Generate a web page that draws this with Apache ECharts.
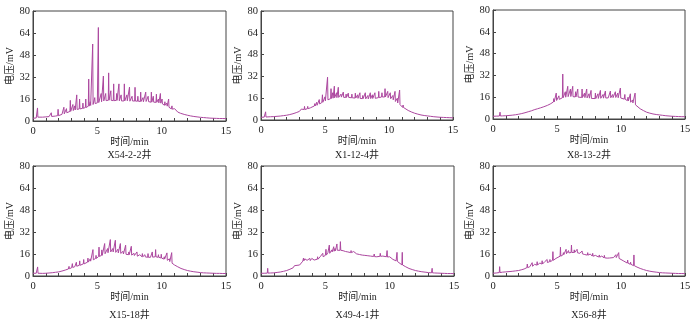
<!DOCTYPE html>
<html><head><meta charset="utf-8">
<script src="https://cdn.jsdelivr.net/npm/echarts@6/dist/echarts.min.js"></script>
<style>html,body{margin:0;padding:0;background:#fff}#c{width:700px;height:326px}</style>
</head><body><div id="c"></div>
<script>
// time grid for baselines (min)
const TIME = [0,0.25,0.5,0.75,1,1.25,1.5,1.75,2,2.25,2.5,2.75,3,3.25,3.5,3.75,4,4.25,4.5,4.75,5,5.25,5.5,5.75,6,6.25,6.5,6.75,7,7.25,7.5,7.75,8,8.25,8.5,8.75,9,9.25,9.5,9.75,10,10.25,10.5,10.75,11,11.25,11.5,11.75,12,12.25,12.5,12.75,13,13.25,13.5,13.75,14,14.25,14.5,14.75,15];
const TITLES = ['X54-2-2井','X1-12-4井','X8-13-2井','X15-18井','X49-4-1井','X56-8井'];
const Y_TICKS = [0,16,32,48,64,80];
const X_TICKS = [0,5,10,15];

// baselines (mV at TIME) and peaks [time, apex, foot]
const BASE1 = [2.0,2.2,3.0,2.8,3.0,3.2,3.4,3.6,4.0,4.8,5.5,6.5,7.2,8.0,8.6,9.0,9.5,10.5,11.5,12.5,13.2,14.0,14.6,15.0,15.2,14.8,15.0,14.6,14.5,14.8,14.4,14.6,14.3,14.5,14.0,14.2,14.0,13.6,13.8,13.2,12.5,11.5,10.2,8.8,7.6,6.5,5.6,4.8,4.2,3.7,3.3,3.0,2.7,2.5,2.3,2.1,2.0,1.9,1.8,1.8,1.7];
const PEAK1 = [[0.35,9.5,2.8],[1.42,6,3.3],[1.95,8.5,3.9],[2.4,10,5.2],[2.6,9,6],[2.9,15,7.0],[3.1,12,7.6],[3.25,11,8.0],[3.4,19,8.4],[3.62,16,8.8],[3.88,13,9.2],[4.1,16,9.8],[4.33,30.5,10.8],[4.45,14,11.3],[4.64,56,12.0],[4.8,17,12.7],[5.08,68,13.4],[5.3,20,14.0],[5.47,32.7,14.5],[5.65,20,14.8],[5.88,35,15.1],[6.05,22,15.0],[6.27,27,14.8],[6.5,20,15.0],[6.68,27,14.7],[6.85,19,14.6],[7.1,27,14.6],[7.3,19,14.7],[7.5,24.7,14.4],[7.7,18,14.6],[7.93,24.5,14.5],[8.15,18,14.4],[8.37,21,14.2],[8.55,17,14.0],[8.76,21,14.2],[8.95,18,14.1],[9.2,21,13.7],[9.35,18,13.7],[9.59,19.5,13.6],[9.75,16,13.2],[9.9,20,13.0],[10.03,16,12.4],[10.25,14,11.5],[10.4,13,10.8],[10.54,16,10.0],[10.8,11,8.6],[11.0,9,7.6],[11.5,7,5.6]];

const BASE2 = [2.0,2.1,2.3,2.4,2.5,2.7,2.9,3.2,3.5,4.0,4.6,5.4,6.3,7.2,8.0,8.6,9.4,10.5,11.6,12.8,14.0,15.0,15.8,16.3,16.6,16.8,16.5,16.7,16.4,16.2,16.0,15.8,15.6,15.4,15.7,15.8,16.0,16.5,17.0,16.8,16.0,15.0,13.6,11.8,10.0,8.4,7.0,5.9,5.0,4.3,3.7,3.3,3.0,2.7,2.4,2.2,2.0,1.9,1.8,1.7,1.6];
const PEAK2 = [[0.36,6,2.2],[3.15,8,6.7],[3.4,10,7.7],[3.65,10,8.3],[3.9,10,9.0],[4.2,12,10.3],[4.35,13,10.8],[4.55,15,11.8],[4.8,18.5,13.0],[5.0,17,14.0],[5.2,31.4,14.8],[5.47,23,15.7],[5.6,20,16],[5.73,24.8,16.3],[5.9,20,16.4],[6.04,24,16.6],[6.25,19,16.8],[6.43,20.5,16.6],[6.65,19,16.6],[6.82,19.7,16.6],[7.1,19,16.3],[7.37,19.7,16.1],[7.55,18.5,15.9],[7.73,20,15.8],[7.95,18,15.7],[8.15,20,15.5],[8.35,18,15.5],[8.54,20,15.7],[8.7,18.5,15.8],[8.9,20,15.9],[9.2,21,16.4],[9.45,20,16.9],[9.69,23,16.9],[9.9,21,16.4],[10.1,20,15.6],[10.3,18,14.8],[10.47,21,13.8],[10.65,16,12.5],[10.83,22,11.3],[11.1,11,9.2]];

const BASE3 = [2.0,2.1,2.2,2.3,2.4,2.6,2.8,3.1,3.5,4.0,4.6,5.3,6.0,6.8,7.5,8.2,9.0,10.0,11.0,12.5,14.0,15.0,15.8,16.3,16.5,16.4,16.2,16.0,15.8,15.6,15.3,15.0,15.0,15.1,15.3,15.4,15.5,15.6,15.8,15.6,15.4,14.6,13.5,12.3,11.0,9.2,7.5,6.2,5.0,4.3,3.7,3.3,3.0,2.7,2.4,2.2,2.0,1.9,1.8,1.7,1.7];
const PEAK3 = [[0.55,5,2.2],[3.25,8,6.8],[3.5,8.5,7.5],[3.75,9,8.2],[4.0,10,9.0],[4.5,12,11],[4.75,15,12.5],[4.94,19,13.6],[5.15,17,14.4],[5.45,33,15.6],[5.65,20,16],[5.84,24,16.4],[6.05,22,16.5],[6.23,24,16.4],[6.45,20,16.2],[6.62,22,16.1],[6.96,22,15.8],[7.15,19,15.7],[7.32,22,15.5],[7.5,18.5,15.3],[7.66,21,15.1],[8.0,19,15.0],[8.2,18.5,15.1],[8.39,21,15.2],[8.6,18,15.3],[8.78,20.5,15.4],[9.17,20.5,15.6],[9.35,18,15.7],[9.56,20,15.8],[9.75,19,15.6],[9.95,22.7,15.4],[10.3,18,14.4],[10.55,16,13.3],[10.73,18.5,12.4],[10.9,14,11.8],[11.1,19,10.4]];

const BASE4 = [2.0,2.0,2.0,1.9,2.0,2.2,2.4,2.7,3.0,3.6,4.3,5.1,6.0,6.8,7.5,8.2,9.0,10.0,11.0,12.2,13.5,14.8,16.0,16.8,17.5,17.4,17.0,16.5,16.0,15.8,15.5,15.0,14.5,14.2,14.0,13.8,13.5,13.7,14.0,13.6,13.0,12.1,11.0,9.5,8.0,6.7,5.5,4.7,4.0,3.5,3.1,2.8,2.5,2.3,2.2,2.1,2.0,1.9,1.9,1.8,1.8];
const PEAK4 = [[0.36,6.6,2.0],[2.8,7,5.3],[3.06,9,6.2],[3.37,10,7.1],[3.63,11,7.8],[3.94,12,8.8],[4.27,13,10.1],[4.45,12.5,10.8],[4.66,19.2,11.8],[4.9,15,12.8],[5.13,21,14.2],[5.35,19,15.0],[5.57,23.6,16.2],[5.8,20,16.9],[6.01,26.5,17.5],[6.2,20,17.5],[6.4,26,17.2],[6.6,19.5,16.8],[6.79,23.6,16.4],[7.0,18,16.0],[7.2,22.4,15.8],[7.45,17.5,15.5],[7.64,21.6,15.2],[7.85,16.5,14.9],[8.08,17.5,14.4],[8.3,15.5,14.1],[8.5,16.3,14.0],[8.7,15.5,13.9],[8.94,16.3,13.6],[9.1,15,13.6],[9.27,17.5,13.7],[9.53,19.2,14.0],[9.75,15.5,13.6],[9.97,15.8,13.1],[10.2,14,12.3],[10.41,16.8,11.4],[10.6,12.5,10.5],[10.78,17,9.3]];

const BASE5 = [2.0,2.0,2.1,2.2,2.3,2.6,2.9,3.4,4.0,4.9,6.0,7.0,8.0,10.8,11.5,11.2,11.5,11.8,12.5,13.8,15.0,16.2,17.5,18.3,19.0,18.6,18.0,17.5,17.0,16.5,16.0,15.5,15.0,14.8,14.5,14.2,14.0,14.3,14.5,14.0,13.0,12.1,11.0,9.5,8.0,6.7,5.5,4.7,4.0,3.5,3.1,2.8,2.5,2.3,2.2,2.1,2.0,1.9,1.8,1.8,1.7];
const PEAK5 = [[0.52,5.6,2.1],[2.6,7.5,6.3],[3.3,13,11],[3.4,12.5,11.3],[3.55,13.5,11.4],[3.7,12,11.2],[3.8,12.8,11.2],[3.95,12.8,11.4],[4.1,13.5,11.6],[4.25,13,11.8],[4.4,14,12.2],[4.6,14,12.8],[4.8,16.5,14.0],[5.05,19.4,15.2],[5.2,17,15.9],[5.31,22.5,16.5],[5.5,19,17.5],[5.65,21.3,18.0],[5.75,20,18.3],[5.9,23.3,18.7],[6.17,25,18.7],[6.35,20,18.4],[6.6,19,17.8],[6.8,18.7,17.4],[7.0,18.5,17.0],[7.2,17.8,16.6],[7.46,17,16.1],[7.7,16.8,15.6],[7.9,16.5,15.2],[8.1,16,15.0],[8.3,15.3,14.7],[8.55,15.5,14.4],[8.8,16,14.1],[9.05,15.2,14.0],[9.27,16.5,14.3],[9.5,15.5,14.5],[9.8,18.5,13.8],[10.0,14,13.0],[10.3,13,11.9],[10.57,17.2,10.6],[10.98,17.2,8.1],[13.3,5.6,2.3]];

const BASE6 = [2.0,2.2,2.5,2.8,3.0,3.2,3.4,3.7,4.0,4.6,5.5,6.3,7.0,7.5,8.0,8.5,9.0,9.8,10.5,11.8,13.0,14.3,15.5,16.3,17.0,17.2,17.0,16.5,16.0,15.5,15.0,14.5,14.0,13.8,13.5,13.2,13.0,13.2,13.5,13.0,12.0,10.8,9.5,8.5,7.5,6.5,5.5,4.7,4.0,3.5,3.1,2.8,2.5,2.3,2.2,2.1,2.0,1.9,1.8,1.8,1.7];
const PEAK6 = [[0.52,6.8,2.5],[2.4,6,5.1],[2.68,8.7,6.1],[2.9,8,6.7],[3.06,9.7,7.1],[3.25,8.5,7.5],[3.45,10.4,7.9],[3.65,9.5,8.3],[3.84,11.1,8.7],[4.05,10.5,9.1],[4.23,12,9.7],[4.45,12,10.4],[4.68,17.7,11.4],[4.95,14,12.8],[5.27,20.9,14.4],[5.5,17,15.5],[5.71,19.4,16.2],[5.9,18.5,16.8],[6.13,22.5,17.1],[6.35,19,17.1],[6.57,19.4,16.9],[6.75,18,16.5],[6.96,18.2,16.1],[7.2,16.8,15.6],[7.4,17,15.2],[7.6,16,14.8],[7.79,16.5,14.4],[8.0,15,14.0],[8.31,15.3,13.7],[8.5,14.5,13.5],[8.7,15,13.2],[8.95,14.2,13.0],[9.14,14.5,13.1],[9.45,14.5,13.4],[9.6,15.5,13.4],[9.82,17,12.8],[10.2,12,11.1],[10.52,11.6,9.4],[10.75,10,8.5],[11.01,15.3,7.5]];

const BASES = [BASE1,BASE2,BASE3,BASE4,BASE5,BASE6];
const PEAKS = [PEAK1,PEAK2,PEAK3,PEAK4,PEAK5,PEAK6];

function build(base, peaks){
  const pts = TIME.map((t,i)=>[t, base[i]]);
  peaks.forEach(([t,p,b])=>{ pts.push([t-0.03,b],[t,p],[t+0.03,b]); });
  pts.sort((a,b)=>a[0]-b[0]);
  return pts;
}

const LAYOUT = [
  {left:33, top:11, width:193, height:110},
  {left:261, top:11, width:192, height:109},
  {left:493, top:10, width:192, height:109},
  {left:33, top:166, width:193, height:110},
  {left:261, top:166, width:193, height:110},
  {left:493, top:166, width:192, height:110}
];
const SERIF = "'Liberation Serif','DejaVu Serif','Noto Sans CJK SC',serif";
const AX = '#444';
const grids=[], xAxes=[], yAxes=[], series=[], graphics=[];
LAYOUT.forEach((g,i)=>{
  grids.push(Object.assign({show:true, borderColor:AX, borderWidth:1, backgroundColor:'transparent'}, g));
  xAxes.push({type:'value', gridIndex:i, min:X_TICKS[0], max:X_TICKS[X_TICKS.length-1], interval:5,
    name:'时间/min', nameLocation:'middle', nameGap:14,
    nameTextStyle:{fontFamily:SERIF, fontSize:10, color:'#222', verticalAlign:'top'},
    axisLine:{lineStyle:{color:AX, width:1}},
    axisTick:{show:true, inside:true, length:3, lineStyle:{color:AX}},
    minorTick:{show:true, splitNumber:5, length:3, lineStyle:{color:AX}},
    axisLabel:{fontFamily:SERIF, fontSize:10.5, color:'#222', margin:5},
    splitLine:{show:false}});
  yAxes.push({type:'value', gridIndex:i, min:Y_TICKS[0], max:Y_TICKS[Y_TICKS.length-1], interval:16,
    name:'电压/mV', nameLocation:'middle', nameGap:17, nameRotate:90,
    nameTextStyle:{fontFamily:SERIF, fontSize:10, color:'#222'},
    axisLine:{lineStyle:{color:AX, width:1}},
    axisTick:{show:true, inside:true, length:3, lineStyle:{color:AX}},
    axisLabel:{fontFamily:SERIF, fontSize:10.5, color:'#222', margin:3},
    splitLine:{show:false}});
  series.push({type:'line', xAxisIndex:i, yAxisIndex:i, data:build(BASES[i], PEAKS[i]),
    showSymbol:false, symbol:'none', lineStyle:{color:'#ac479f', width:1}, silent:true, animation:false});
  graphics.push({type:'text', x:g.left+g.width/2, y:(i<3?155:315),
    style:{text:TITLES[i], fontFamily:SERIF, fontSize:10, fill:'#222', textAlign:'center', textVerticalAlign:'middle'}});
});

const chart = echarts.init(document.getElementById('c'), null, {renderer:'canvas'});
chart.setOption({animation:false, backgroundColor:'#fff', grid:grids, xAxis:xAxes, yAxis:yAxes, series:series, graphic:graphics});
</script></body></html>
